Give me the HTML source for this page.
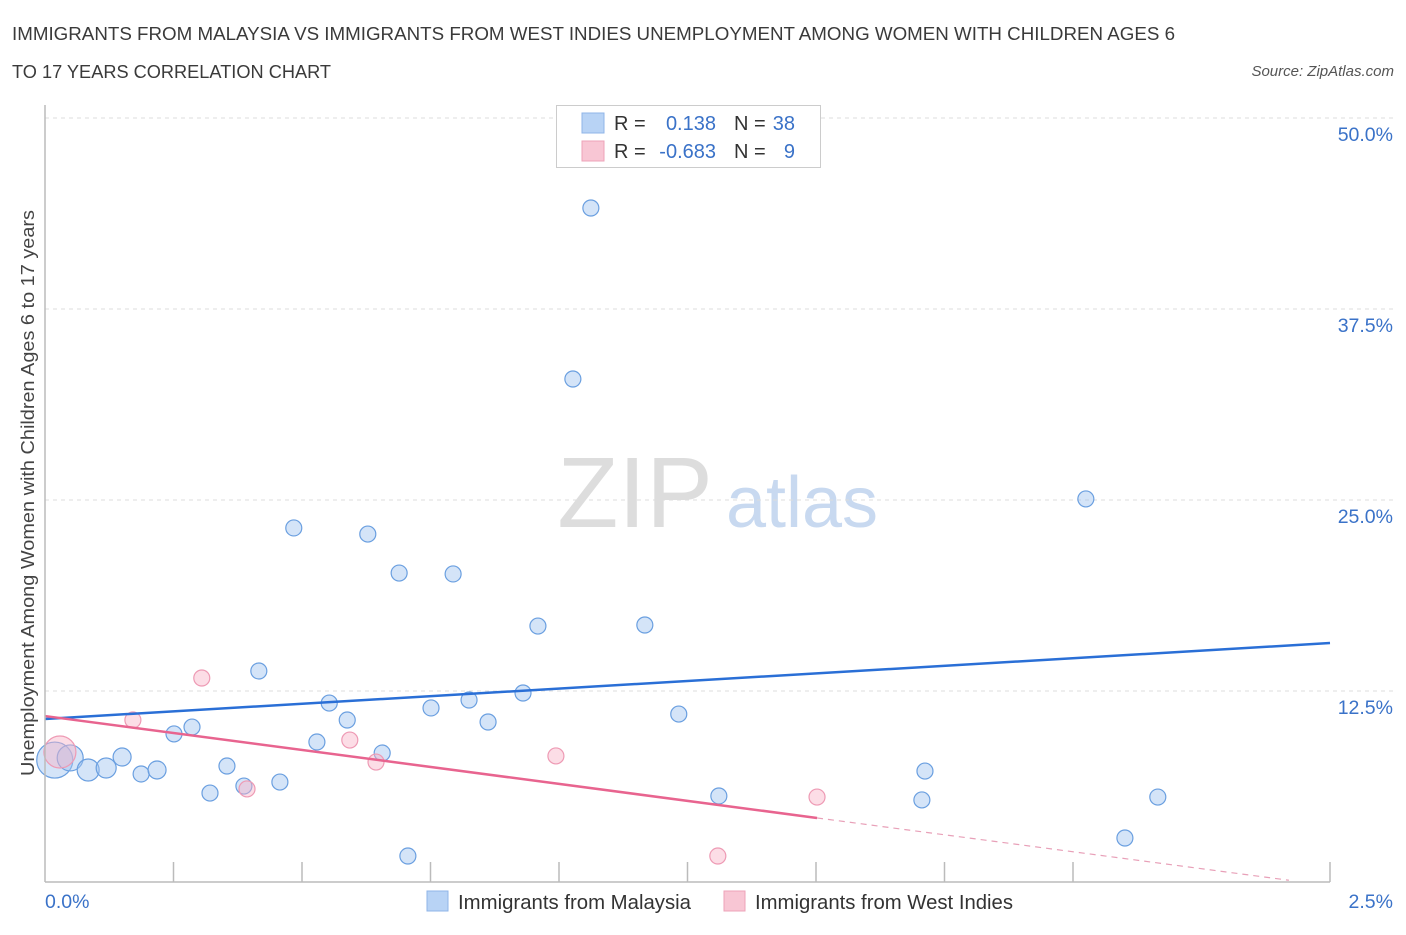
<!DOCTYPE html>
<html><head><meta charset="utf-8"><style>
body{margin:0;background:#fff;font-family:"Liberation Sans",sans-serif}
svg text{font-family:"Liberation Sans",sans-serif}
</style></head><body>
<svg width="1406" height="930" id="chart">
<text x="12" y="40" font-size="18" fill="#3a3a3a" textLength="1163" lengthAdjust="spacingAndGlyphs">IMMIGRANTS FROM MALAYSIA VS IMMIGRANTS FROM WEST INDIES UNEMPLOYMENT AMONG WOMEN WITH CHILDREN AGES 6</text>
<text x="12" y="78" font-size="18" fill="#3a3a3a" textLength="319" lengthAdjust="spacingAndGlyphs">TO 17 YEARS CORRELATION CHART</text>
<text x="1394" y="76" font-size="15" fill="#555" font-style="italic" text-anchor="end">Source: ZipAtlas.com</text>
<text x="0" y="0" transform="translate(34,493) rotate(-90)" font-size="18" fill="#444" text-anchor="middle" textLength="566" lengthAdjust="spacingAndGlyphs">Unemployment Among Women with Children Ages 6 to 17 years</text>
<g>
<text x="635" y="527" font-size="100" fill="#ddd" font-family="Liberation Serif" text-anchor="middle">ZIP</text>
<text x="802" y="527" font-size="72" fill="#c8d9f0" text-anchor="middle">atlas</text>
</g>
<g id="grid"></g>
<g id="marks"></g>
<line x1="45" y1="105" x2="45" y2="882" stroke="#bbb" stroke-width="1.5"/>
<line x1="45" y1="882" x2="1330" y2="882" stroke="#bbb" stroke-width="1.5"/>
<text x="45" y="908" font-size="19.5" fill="#3a72c8">0.0%</text>
<text x="1393" y="908" font-size="19.5" fill="#3a72c8" text-anchor="end">2.5%</text>
<g>
<rect x="556.5" y="105.5" width="264" height="62" fill="#fff" stroke="#ccc"/>
<rect x="582" y="113" width="22" height="20" fill="#b8d3f5" stroke="#8fb5e8"/>
<rect x="582" y="141" width="22" height="20" fill="#f8c6d4" stroke="#eea3b8"/>
<text x="614" y="130" font-size="20" fill="#333">R = </text><text x="716" y="130" font-size="20" fill="#3a72c8" text-anchor="end">0.138</text>
<text x="734" y="130" font-size="20" fill="#333">N = </text><text x="795" y="130" font-size="20" fill="#3a72c8" text-anchor="end">38</text>
<text x="614" y="158" font-size="20" fill="#333">R = </text><text x="716" y="158" font-size="20" fill="#3a72c8" text-anchor="end">-0.683</text>
<text x="734" y="158" font-size="20" fill="#333">N = </text><text x="795" y="158" font-size="20" fill="#3a72c8" text-anchor="end">9</text>
</g>
<g>
<rect x="427" y="891" width="21" height="20" fill="#b8d3f5" stroke="#8fb5e8"/>
<text x="458" y="909" font-size="20" fill="#333" textLength="233" lengthAdjust="spacingAndGlyphs">Immigrants from Malaysia</text>
<rect x="724" y="891" width="21" height="20" fill="#f8c6d4" stroke="#eea3b8"/>
<text x="755" y="909" font-size="20" fill="#333" textLength="258" lengthAdjust="spacingAndGlyphs">Immigrants from West Indies</text>
</g>
</svg>
<script>
const yTicks=[12.5,25,37.5,50];
const yTickLabels=["12.5%","25.0%","37.5%","50.0%"];
const blueX=[0.019,0.049,0.084,0.119,0.150,0.187,0.218,0.251,0.286,0.321,0.354,0.387,0.416,0.457,0.484,0.529,0.553,0.588,0.628,0.656,0.689,0.706,0.751,0.794,0.825,0.862,0.930,0.959,1.027,1.062,1.167,1.233,1.311,1.712,1.706,2.025,2.101,2.165];
const blueY=[7.98,8.12,7.33,7.46,8.18,7.07,7.33,9.69,10.14,5.82,7.59,6.28,13.81,6.54,23.17,9.16,11.71,10.60,22.77,8.44,20.22,1.70,11.39,20.16,11.91,10.47,12.37,16.75,32.92,44.11,16.82,10.99,5.63,7.26,5.37,25.07,2.88,5.56];
const blueR=[18,13,11,10,9,8,9,8,8,8,8,8,8,8,8,8,8,8,8,8,8,8,8,8,8,8,8,8,8,8,8,8,8,8,8,8,8,8];
const pinkX=[0.029,0.171,0.305,0.393,0.593,0.644,0.994,1.309,1.502];
const pinkY=[8.51,10.60,13.35,6.09,9.29,7.85,8.25,1.70,5.56];
const pinkR=[16,8,8,8,8,8,8,8,8];
const blueTrend=[10.67,15.64];
const pinkTrend=[10.86,-4.44];
const pinkSolidEnd=1.502;
const ns="http://www.w3.org/2000/svg";
const sx=v=>45+v/2.5*1285, sy=v=>882-v*15.28;
const grid=document.getElementById('grid'), marks=document.getElementById('marks');
function mk(tag,attrs,parent){const e=document.createElementNS(ns,tag);for(const k in attrs)e.setAttribute(k,attrs[k]);parent.appendChild(e);return e;}
yTicks.forEach((t,i)=>{
 const l=mk('line',{x1:45,x2:1395,y1:sy(t),y2:sy(t),stroke:'#ddd','stroke-dasharray':'4,4'},grid);
 
 
 const tx=mk('text',{x:1393,y:sy(t)+23,'font-size':19.5,fill:'#3a72c8','text-anchor':'end'},grid);
 tx.textContent=yTickLabels[i];
 
 
});
for(let i=1;i<=10;i++){ if(i==9) continue;
 const l=mk('line',{x1:sx(i*0.25),x2:sx(i*0.25),y1:862,y2:882,stroke:'#bbb','stroke-width':1.5},grid);
 
 
}
blueX.forEach((x,i)=>{
 const c=mk('circle',{cx:sx(x),cy:sy(blueY[i]),r:blueR[i],fill:'rgba(160,196,240,0.45)',stroke:'#6a9fe0','stroke-width':1.2},marks);
 
 
});
pinkX.forEach((x,i)=>{
 const c=mk('circle',{cx:sx(x),cy:sy(pinkY[i]),r:pinkR[i],fill:'rgba(248,180,200,0.45)',stroke:'#ee9ab4','stroke-width':1.2},marks);
 
 
});
const bl=mk('line',{x1:sx(0),y1:sy(blueTrend[0]),x2:sx(2.5),y2:sy(blueTrend[1]),stroke:'#2a6fd6','stroke-width':2.5},marks);


const pe=pinkTrend[0]+pinkTrend[1]*pinkSolidEnd;
const pl=mk('line',{x1:sx(0),y1:sy(pinkTrend[0]),x2:sx(pinkSolidEnd),y2:sy(pe),stroke:'#e8648f','stroke-width':2.5},marks);


const xe=2.42;
const pd=mk('line',{x1:sx(pinkSolidEnd),y1:sy(pe),x2:sx(xe),y2:sy(pinkTrend[0]+pinkTrend[1]*xe),stroke:'#e8a0b8','stroke-width':1.2,'stroke-dasharray':'6,5'},marks);


</script>
</body></html>
